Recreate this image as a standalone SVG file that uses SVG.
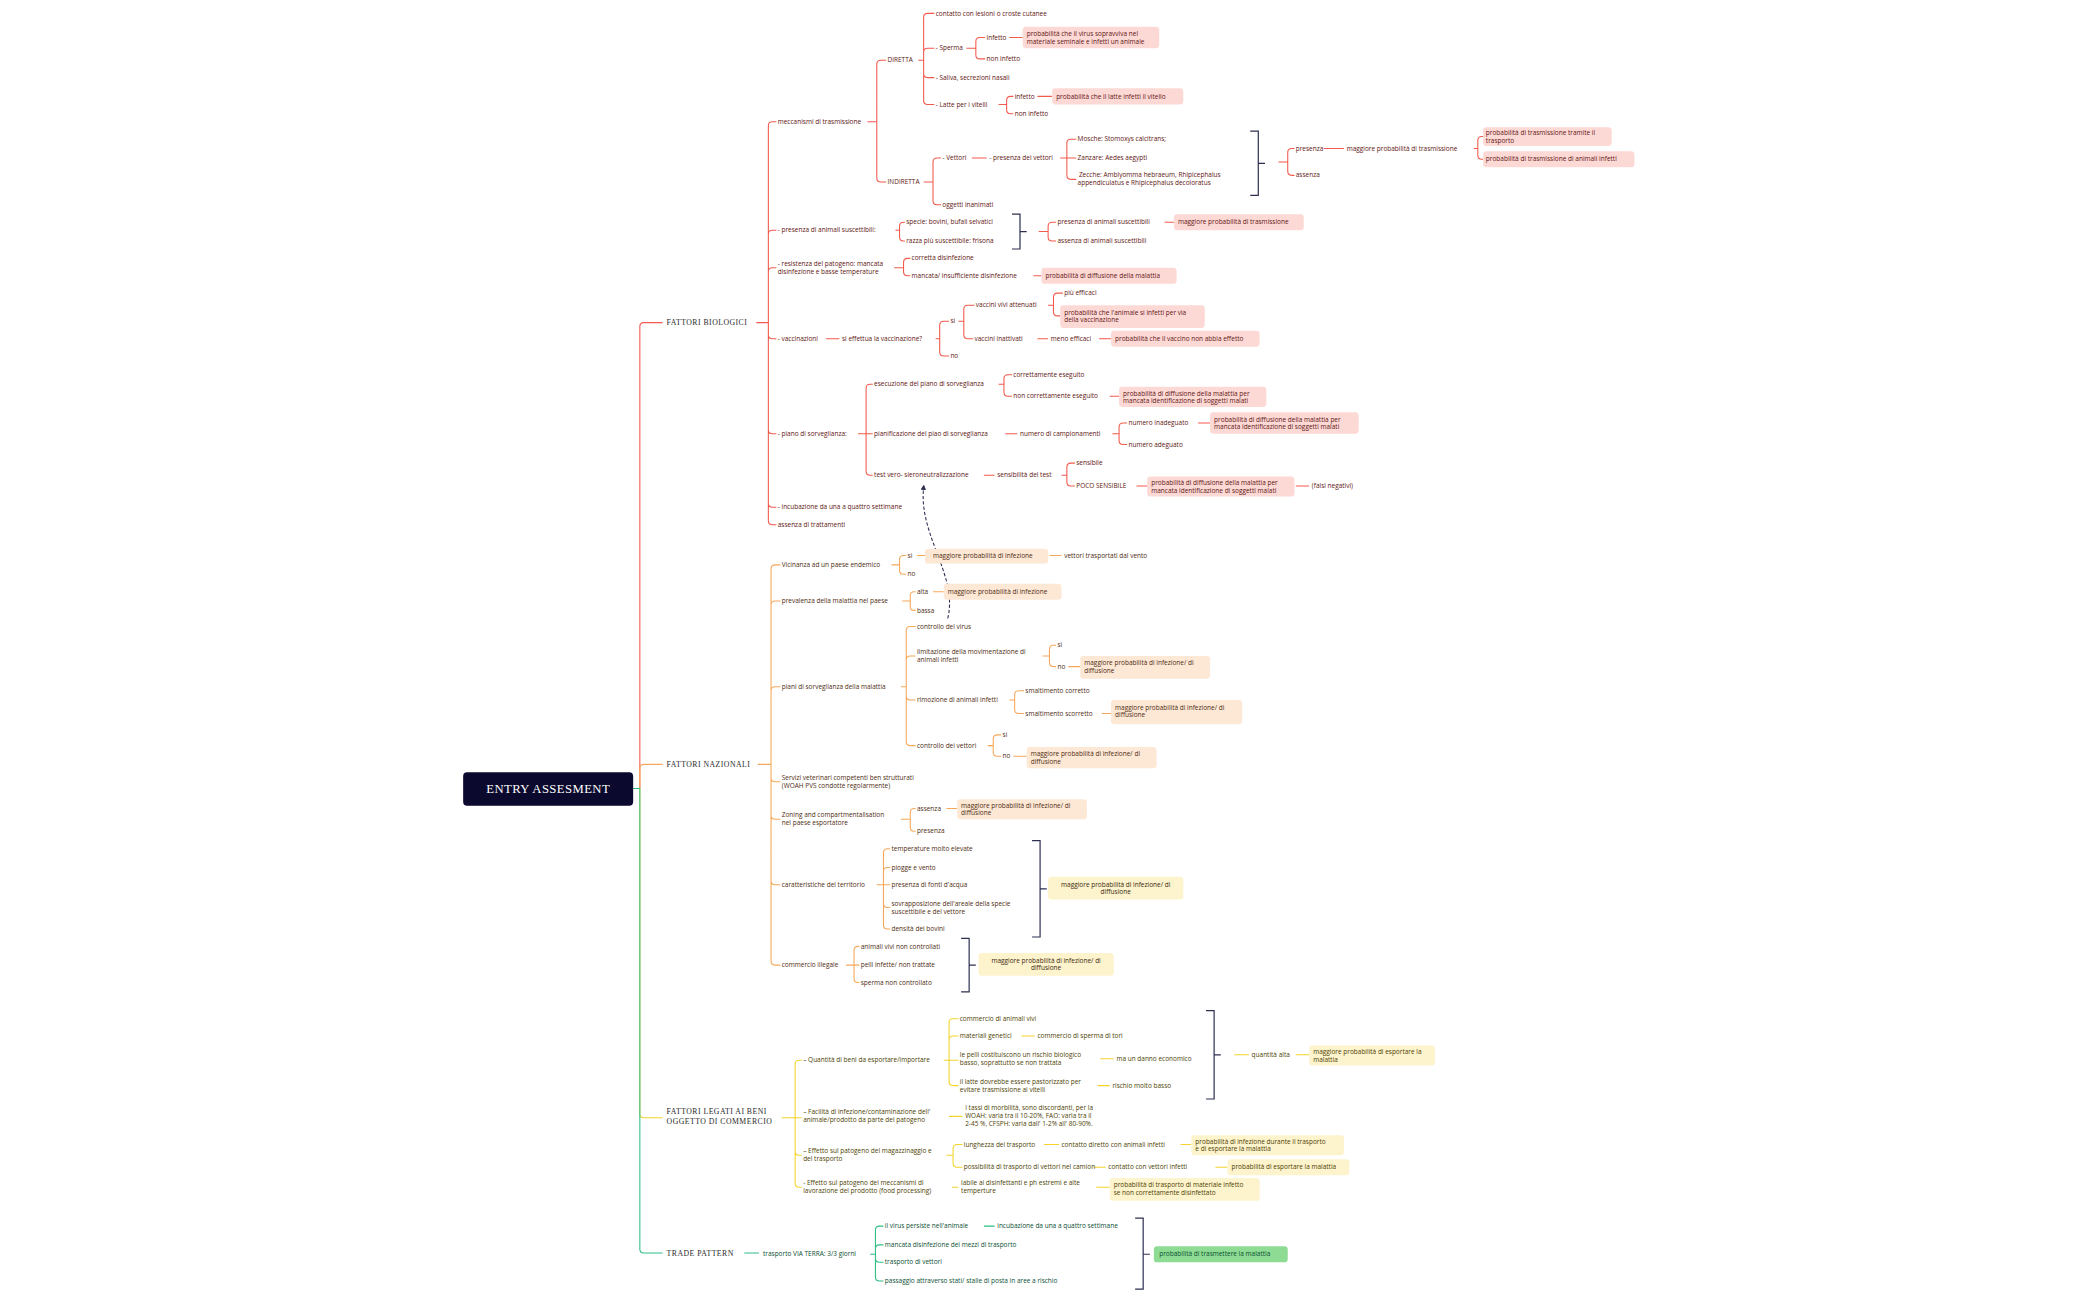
<svg xmlns="http://www.w3.org/2000/svg" width="2099" height="1300" viewBox="0 0 2099 1300">
<defs>
<style>
text{font-family:"Open Sans","Noto Sans",sans-serif;font-size:4.85px}
.r{fill:#5e1612}.o{fill:#4e2c12}.y{fill:#4d3f04}.g{fill:#0b4f33}
.lr{fill:none;stroke:#f25a4d;stroke-width:0.8}
.lo{fill:none;stroke:#f6a85a;stroke-width:0.8}
.ly{fill:none;stroke:#f3d32c;stroke-width:0.8}
.lg{fill:none;stroke:#2dbd84;stroke-width:0.8}
.lk{fill:none;stroke:#2d2f52;stroke-width:0.9}
.br{fill:#fdd9d6}.bo{fill:#fde8d6}.by{fill:#fdf3cc}.bg{fill:#8edc94}
.main{font-family:"Liberation Serif",serif;font-size:5.8px;letter-spacing:0.35px;fill:#2a2a2a}
</style>
<marker id="ah" viewBox="0 0 10 10" refX="5" refY="5" markerWidth="5" markerHeight="5" orient="auto-start-reverse"><path d="M0,0 L10,5 L0,10 z" fill="#2d2f52"/></marker>
</defs>
<rect width="2099" height="1300" fill="#fff"/>
<g transform="scale(1.3386)">
<g id="connectors">
<path class="lr" d="M478 589 V244 Q478 241 481 241 H495 M565 241 H574 M574 241 V94 Q574 91 577 91 H580 M574 241 V175 Q574 172 577 172 H580 M574 241 V203 Q574 200 577 200 H580 M574 241 V250 Q574 253 577 253 H580 M574 241 V321 Q574 324 577 324 H580 M574 241 V376 Q574 379 577 379 H580 M574 241 V389 Q574 392 577 392 H580
M648 91 H655 M655 91 V48 Q655 45 658 45 H662 M655 91 V133 Q655 136 658 136 H662
M686 45 H690 M690 45 V13 Q690 10 693 10 H698 M690 45 V39 Q690 36 693 36 H698 M690 45 V55 Q690 58 693 58 H698 M690 45 V75 Q690 78 693 78 H698
M722 36 H729 M729 36 V31 Q729 28 732 28 H736 M729 36 V41 Q729 44 732 44 H736 M754 28 H764
M746 78 H752 M752 78 V75 Q752 72 755 72 H757 M752 78 V82 Q752 85 755 85 H757 M775 72 H786
M690 136 H697 M697 136 V121 Q697 118 700 118 H703 M697 136 V150 Q697 153 700 153 H703
M726 118 H737 M792 118 H797 M797 118 V107 Q797 104 800 104 H804 M797 118 H804 M797 118 V131 Q797 134 800 134 H804
M955 121 H962 M962 121 V114 Q962 111 965 111 H967 M962 121 V128 Q962 131 965 131 H967 M989 111 H1004 M1101 111 H1104 M1104 111 V105 Q1104 102 1107 102 H1108 M1104 111 V116 Q1104 119 1107 119 H1108
M669 172 H672 M672 172 V169 Q672 166 675 166 H676 M672 172 V177 Q672 180 675 180 H676
M776 173 H783 M783 173 V169 Q783 166 786 166 H789 M783 173 V177 Q783 180 786 180 H789 M870 166 H877
M668 200 H675 M675 200 V196 Q675 193 678 193 H680 M675 200 V203 Q675 206 678 206 H680 M772 206 H778
M617 253 H627 M699 253 H702 M702 253 V243 Q702 240 705 240 H709 M702 253 V263 Q702 266 705 266 H709
M716 240 H720 M720 240 V231 Q720 228 723 228 H728 M720 240 V250 Q720 253 723 253 H727
M783 228 H787 M787 228 V222 Q787 219 790 219 H794 M787 228 V233 Q787 236 790 236 H792
M775 253 H783 M821 253 H830
M641 324 H647 M647 324 V290 Q647 287 650 287 H652 M647 324 H652 M647 324 V352 Q647 355 650 355 H652
M746 287 H750 M750 287 V283 Q750 280 753 280 H756 M750 287 V293 Q750 296 753 296 H756 M829 296 H836
M751 324 H760 M831 324 H836 M836 324 V319 Q836 316 839 316 H842 M836 324 V329 Q836 332 839 332 H842 M895 316 H904
M735 355 H743 M793 355 H797 M797 355 V349 Q797 346 800 346 H803 M797 355 V360 Q797 363 800 363 H803 M849 363 H857 M968 363 H978"/>
<path class="lo" d="M478 589 V574 Q478 571 481 571 H495 M566 571 H576 M576 571 V425 Q576 422 579 422 H583 M576 571 V452 Q576 449 579 449 H583 M576 571 V516 Q576 513 579 513 H583 M576 571 V581 Q576 584 579 584 H583 M576 571 V609 Q576 612 579 612 H583 M576 571 V658 Q576 661 579 661 H583 M576 571 V718 Q576 721 579 721 H583
M666 422 H672 M672 422 V418 Q672 415 675 415 H677 M672 422 V426 Q672 429 675 429 H677 M685 415 H691 M784 415 H793
M674 449 H680 M680 449 V445 Q680 442 683 442 H684 M680 449 V453 Q680 456 683 456 H684 M697 442 H705
M673 513 H677 M677 513 V471 Q677 468 680 468 H684 M677 513 V493 Q677 490 680 490 H684 M677 513 V520 Q677 523 680 523 H684 M677 513 V554 Q677 557 680 557 H684
M779 490 H784 M784 490 V485 Q784 482 787 482 H789 M784 490 V495 Q784 498 787 498 H789 M798 498 H807
M754 523 H758 M758 523 V519 Q758 516 761 516 H765 M758 523 V530 Q758 533 761 533 H765 M823 533 H830
M738 557 H742 M742 557 V552 Q742 549 745 549 H748 M742 557 V562 Q742 565 745 565 H748 M757 565 H767
M673 612 H680 M680 612 V607 Q680 604 683 604 H684 M680 612 V618 Q680 621 683 621 H684 M707 604 H715
M655 661 H660 M660 661 V637 Q660 634 663 634 H665 M660 661 V651 Q660 648 663 648 H665 M660 661 H665 M660 661 V675 Q660 678 663 678 H665 M660 661 V691 Q660 694 663 694 H665
M632 721 H638 M638 721 V710 Q638 707 641 707 H642 M638 721 H642 M638 721 V731 Q638 734 641 734 H642"/>
<path class="ly" d="M478 589 V832 Q478 835 481 835 H495 M584 835 H594 M594 835 V795 Q594 792 597 792 H599 M594 835 H599 M594 835 V860 Q594 863 597 863 H599 M594 835 V884 Q594 887 597 887 H599
M705 792 H709 M709 792 V764 Q709 761 712 761 H716 M709 792 V777 Q709 774 712 774 H716 M709 792 H716 M709 792 V808 Q709 811 712 811 H716
M763 774 H773 M822 791 H832 M820 811 H829 M922 788 H933 M968 788 H978
M709 834 H719
M707 863 H712 M712 863 V858 Q712 855 715 855 H719 M712 863 V869 Q712 872 715 872 H719 M780 855 H791 M882 855 H890 M817 872 H826 M908 872 H917
M711 887 H716 M819 887 H829"/>
<path class="lg" d="M473 589 H478 V933 Q478 936 481 936 H495 M556 936 H567 M650 937 H654 M654 937 V919 Q654 916 657 916 H660 M654 937 V933 Q654 930 657 930 H660 M654 937 V940 Q654 943 657 943 H660 M654 937 V954 Q654 957 657 957 H660 M735 916 H743"/>
<path class="lk" d="M934 98 H940 V146 H934 M940 122 H945 M756 160 H762 V186 H756 M762 173 H767 M771 628 H777 V700 H771 M777 664 H782 M718 701 H724 V741 H718 M724 721 H729 M901 755 H907 V821 H901 M907 788 H912 M848 910 H854 V963 H848 M854 937 H859"/>
<path d="M708 462 C 716 430 686 400 690 364" fill="none" stroke="#2d2f52" stroke-width="0.8" stroke-dasharray="2.5 1.5" marker-end="url(#ah)"/>
</g>
<g id="root"><rect x="346" y="577" width="127" height="25" rx="3" fill="#0b0a2e"/><text x="409.5" y="592.5" text-anchor="middle" style="font-family:'Liberation Serif',serif;font-size:9.5px;fill:#fff;letter-spacing:0.3px">ENTRY ASSESMENT</text></g>
<g id="main-labels">
<text class="main" x="498" y="243">FATTORI BIOLOGICI</text>
<text class="main" x="498" y="573">FATTORI NAZIONALI</text>
<text class="main" x="498" y="832">FATTORI LEGATI AI BENI</text>
<text class="main" x="498" y="839.5">OGGETTO DI COMMERCIO</text>
<text class="main" x="498" y="938">TRADE PATTERN</text>
</g>
<g id="bio">
<text class="r" x="581" y="92.6">meccanismi di trasmissione</text>
<text class="r" x="663" y="46.6">DIRETTA</text>
<text class="r" x="699" y="11.6">contatto con lesioni o croste cutanee</text>
<text class="r" x="699" y="37.6">- Sperma</text>
<text class="r" x="737" y="29.6">infetto</text>
<rect class="br" x="764" y="20" width="102" height="16" rx="2.5"/><text class="r" x="767" y="27">probabilità che il virus sopravviva nel</text><text class="r" x="767" y="32.5">materiale seminale e infetti un animale</text>
<text class="r" x="737" y="45.6">non infetto</text>
<text class="r" x="699" y="59.6">- Saliva, secrezioni nasali</text>
<text class="r" x="699" y="79.6">- Latte per i vitelli</text>
<text class="r" x="758" y="73.6">infetto</text>
<rect class="br" x="786" y="66" width="98" height="12" rx="2.5"/><text class="r" x="789" y="73.6">probabilità che il latte infetti il vitello</text>
<text class="r" x="758" y="86.6">non infetto</text>
<text class="r" x="663" y="137.6">INDIRETTA</text>
<text class="r" x="704" y="119.6">- Vettori</text>
<text class="r" x="739" y="119.6">- presenza dei vettori</text>
<text class="r" x="805" y="105.6">Mosche: Stomoxys calcitrans;</text>
<text class="r" x="805" y="119.6">Zanzare: Aedes aegypti</text>
<text class="r" x="806" y="132.5">Zecche: Amblyomma hebraeum, Rhipicephalus</text>
<text class="r" x="805" y="138.5">appendiculatus e Rhipicephalus decoloratus</text>
<text class="r" x="704" y="154.6">oggetti inanimati</text>
<text class="r" x="968" y="112.6">presenza</text>
<text class="r" x="1006" y="112.6">maggiore probabilità di trasmissione</text>
<text class="r" x="968" y="132.6">assenza</text>
<rect class="br" x="1108" y="95" width="96" height="14" rx="2.5"/><text class="r" x="1110" y="101">probabilità di trasmissione tramite il</text><text class="r" x="1110" y="106.5">trasporto</text>
<rect class="br" x="1108" y="113" width="113" height="12" rx="2.5"/><text class="r" x="1110" y="120.6">probabilità di trasmissione di animali infetti</text>
<text class="r" x="581" y="173.6">- presenza di animali suscettibili:</text>
<text class="r" x="677" y="167.6">specie: bovini, bufali selvatici</text>
<text class="r" x="677" y="181.6">razza più suscettibile: frisona</text>
<text class="r" x="790" y="167.6">presenza di animali suscettibili</text>
<rect class="br" x="877" y="160" width="97" height="12" rx="2.5"/><text class="r" x="880" y="167.6">maggiore probabilità di trasmissione</text>
<text class="r" x="790" y="181.6">assenza di animali suscettibili</text>
<text class="r" x="581" y="198.5">- resistenza del patogeno: mancata</text>
<text class="r" x="581" y="204.5">disinfezione e basse temperature</text>
<text class="r" x="681" y="194.6">corretta disinfezione</text>
<text class="r" x="681" y="207.6">mancata/ insufficiente disinfezione</text>
<rect class="br" x="778" y="200" width="101" height="12" rx="2.5"/><text class="r" x="781" y="207.6">probabilità di diffusione della malattia</text>
<text class="r" x="581" y="254.6">- vaccinazioni</text>
<text class="r" x="629" y="254.6">si effettua la vaccinazione?</text>
<text class="r" x="710" y="241.6">sì</text>
<text class="r" x="710" y="267.6">no</text>
<text class="r" x="729" y="229.6">vaccini vivi attenuati</text>
<text class="r" x="795" y="220.6">più efficaci</text>
<rect class="br" x="792" y="228" width="108" height="17" rx="2.5"/><text class="r" x="795" y="235">probabilità che l'animale si infetti per via</text><text class="r" x="795" y="240.5">della vaccinazione</text>
<text class="r" x="728" y="254.6">vaccini inattivati</text>
<text class="r" x="785" y="254.6">meno efficaci</text>
<rect class="br" x="830" y="247" width="111" height="12" rx="2.5"/><text class="r" x="833" y="254.6">probabilità che il vaccino non abbia effetto</text>
<text class="r" x="581" y="325.6">- piano di sorveglianza:</text>
<text class="r" x="653" y="288.6">esecuzione del piano di sorveglianza</text>
<text class="r" x="757" y="281.6">correttamente eseguito</text>
<text class="r" x="757" y="297.6">non correttamente eseguito</text>
<rect class="br" x="836" y="289" width="110" height="15" rx="2.5"/><text class="r" x="839" y="295.5">probabilità di diffusione della malattia per</text><text class="r" x="839" y="301">mancata identificazione di soggetti malati</text>
<text class="r" x="653" y="325.6">pianificazione del piao di sorveglianza</text>
<text class="r" x="762" y="325.6">numero di campionamenti</text>
<text class="r" x="843" y="317.6">numero inadeguato</text>
<rect class="br" x="904" y="308" width="111" height="16" rx="2.5"/><text class="r" x="907" y="315">probabilità di diffusione della malattia per</text><text class="r" x="907" y="320.5">mancata identificazione di soggetti malati</text>
<text class="r" x="843" y="333.6">numero adeguato</text>
<text class="r" x="653" y="356.6">test vero- sieroneutralizzazione</text>
<text class="r" x="745" y="356.6">sensibilità del test</text>
<text class="r" x="804" y="347.6">sensibile</text>
<text class="r" x="804" y="364.6">POCO SENSIBILE</text>
<rect class="br" x="857" y="356" width="110" height="15" rx="2.5"/><text class="r" x="860" y="362.5">probabilità di diffusione della malattia per</text><text class="r" x="860" y="368">mancata identificazione di soggetti malati</text>
<text class="r" x="980" y="364.6">(falsi negativi)</text>
<text class="r" x="581" y="380.6">- incubazione da una a quattro settimane</text>
<text class="r" x="581" y="393.6">assenza di trattamenti</text>
</g>
<g id="naz">
<text class="o" x="584" y="423.6">Vicinanza ad un paese endemico</text>
<text class="o" x="678" y="416.6">sì</text>
<rect class="bo" x="691" y="410" width="92" height="11" rx="2.5"/><text class="o" x="697" y="417">maggiore probabilità di infezione</text>
<text class="o" x="795" y="416.6">vettori trasportati dal vento</text>
<text class="o" x="678" y="430.6">no</text>
<text class="o" x="584" y="450.6">prevalenza della malattia nel paese</text>
<text class="o" x="685" y="443.6">alta</text>
<rect class="bo" x="705" y="436" width="88" height="12" rx="2.5"/><text class="o" x="708" y="443.6">maggiore probabilità di infezione</text>
<text class="o" x="685" y="457.6">bassa</text>
<text class="o" x="584" y="514.6">piani di sorveglianza della malattia</text>
<text class="o" x="685" y="469.6">controllo del virus</text>
<text class="o" x="685" y="488.5">limitazione della movimentazione di</text>
<text class="o" x="685" y="494.5">animali infetti</text>
<text class="o" x="790" y="483.6">sì</text>
<text class="o" x="790" y="499.6">no</text>
<rect class="bo" x="807" y="490" width="97" height="17" rx="2.5"/><text class="o" x="810" y="497">maggiore probabilità di infezione/ di</text><text class="o" x="810" y="502.5">diffusione</text>
<text class="o" x="685" y="524.6">rimozione di animali infetti</text>
<text class="o" x="766" y="517.6">smaltimento corretto</text>
<text class="o" x="766" y="534.6">smaltimento scorretto</text>
<rect class="bo" x="830" y="523" width="98" height="18" rx="2.5"/><text class="o" x="833" y="530.5">maggiore probabilità di infezione/ di</text><text class="o" x="833" y="536">diffusione</text>
<text class="o" x="685" y="558.6">controllo dei vettori</text>
<text class="o" x="749" y="550.6">sì</text>
<text class="o" x="749" y="566.6">no</text>
<rect class="bo" x="767" y="558" width="97" height="16" rx="2.5"/><text class="o" x="770" y="565">maggiore probabilità di infezione/ di</text><text class="o" x="770" y="570.5">diffusione</text>
<text class="o" x="584" y="582.5">Servizi veterinari competenti ben strutturati</text>
<text class="o" x="584" y="588.5">(WOAH PVS condotte regolarmente)</text>
<text class="o" x="584" y="610.5">Zoning and compartmentalisation</text>
<text class="o" x="584" y="616.5">nel paese esportatore</text>
<text class="o" x="685" y="605.6">assenza</text>
<rect class="bo" x="715" y="597" width="97" height="15" rx="2.5"/><text class="o" x="718" y="603.5">maggiore probabilità di infezione/ di</text><text class="o" x="718" y="609">diffusione</text>
<text class="o" x="685" y="622.6">presenza</text>
<text class="o" x="584" y="662.6">caratteristiche del territorio</text>
<text class="o" x="666" y="635.6">temperature molto elevate</text>
<text class="o" x="666" y="649.6">piogge e vento</text>
<text class="o" x="666" y="662.6">presenza di fonti d'acqua</text>
<text class="o" x="666" y="676.5">sovrapposizione dell'areale della specie</text>
<text class="o" x="666" y="682.5">suscettibile e del vettore</text>
<text class="o" x="666" y="695.6">densità dei bovini</text>
<rect class="by" x="783" y="655" width="101" height="17" rx="2.5"/><text x="833.5" y="662.5" text-anchor="middle" style="fill:#3a2a10">maggiore probabilità di infezione/ di</text><text x="833.5" y="668" text-anchor="middle" style="fill:#3a2a10">diffusione</text>
<text class="o" x="584" y="722.6">commercio illegale</text>
<text class="o" x="643" y="708.6">animali vivi non controllati</text>
<text class="o" x="643" y="722.6">pelli infette/ non trattate</text>
<text class="o" x="643" y="735.6">sperma non controllato</text>
<rect class="by" x="731" y="712" width="101" height="17" rx="2.5"/><text x="781.5" y="719.5" text-anchor="middle" style="fill:#3a2a10">maggiore probabilità di infezione/ di</text><text x="781.5" y="725" text-anchor="middle" style="fill:#3a2a10">diffusione</text>
</g>
<g id="beni">
<text class="y" x="600" y="793.6">– Quantità di beni da esportare/importare</text>
<text class="y" x="717" y="762.6">commercio di animali vivi</text>
<text class="y" x="717" y="775.6">materiali genetici</text>
<text class="y" x="775" y="775.6">commercio di sperma di tori</text>
<text class="y" x="717" y="789.5">le pelli  costituiscono un rischio biologico</text>
<text class="y" x="717" y="795.5">basso, soprattutto se non trattata</text>
<text class="y" x="834" y="792.6">ma un danno economico</text>
<text class="y" x="717" y="809.5">il latte dovrebbe essere pastorizzato per</text>
<text class="y" x="717" y="815.5">evitare trasmissione ai vitelli</text>
<text class="y" x="831" y="812.6">rischio molto basso</text>
<text class="y" x="935" y="789.6">quantità alta</text>
<rect class="by" x="978" y="781" width="94" height="15" rx="2.5"/><text class="y" x="981" y="787.5">maggiore probabilità di esportare la</text><text class="y" x="981" y="793">malattia</text>
<text class="y" x="600" y="832.5">– Facilità di infezione/contaminazione dell'</text>
<text class="y" x="600" y="838.5">animale/prodotto da parte del patogeno</text>
<text class="y" x="721" y="829.5">I tassi di morbilità,  sono discordanti, per la</text>
<text class="y" x="721" y="835.5">WOAH: varia tra il 10-20%, FAO: varia tra il</text>
<text class="y" x="721" y="841.5">2-45 %, CFSPH: varia dall' 1-2% all' 80-90%.</text>
<text class="y" x="600" y="861.5">– Effetto sul patogeno del magazzinaggio e</text>
<text class="y" x="600" y="867.5">del trasporto</text>
<text class="y" x="720" y="856.6">lunghezza del trasporto</text>
<text class="y" x="793" y="856.6">contatto diretto con animali infetti</text>
<rect class="by" x="890" y="848" width="114" height="15" rx="2.5"/><text class="y" x="893" y="854.5">probabilità di infezione durante il trasporto</text><text class="y" x="893" y="860">e di esportare la malattia</text>
<text class="y" x="720" y="873.6">possibilità di trasporto di vettori nel camion</text>
<text class="y" x="828" y="873.6">contatto con vettori infetti</text>
<rect class="by" x="917" y="866" width="91" height="12" rx="2.5"/><text class="y" x="920" y="873.6">probabilità di esportare la malattia</text>
<text class="y" x="600" y="885.5">- Effetto sul patogeno dei meccanismi di</text>
<text class="y" x="600" y="891.5">lavorazione del prodotto (food processing)</text>
<text class="y" x="718" y="885.5">labile ai disinfettanti e ph estremi e alte</text>
<text class="y" x="718" y="891.5">temperture</text>
<rect class="by" x="829" y="880" width="112" height="17" rx="2.5"/><text class="y" x="832" y="887">probabilità di trasporto di materiale infetto</text><text class="y" x="832" y="892.5">se non correttamente disinfettato</text>
</g>
<g id="trade">
<text class="g" x="570" y="938.6">trasporto VIA TERRA: 3/3 giorni</text>
<text class="g" x="661" y="917.6">il virus persiste nell'animale</text>
<text class="g" x="745" y="917.6">incubazione da una a quattro settimane</text>
<text class="g" x="661" y="931.6">mancata disinfezione dei mezzi di trasporto</text>
<text class="g" x="661" y="944.6">trasporto di vettori</text>
<text class="g" x="661" y="958.6">passaggio attraverso stati/ stalle di posta in aree a rischio</text>
<rect class="bg" x="862" y="931" width="100" height="12" rx="2.5"/><text class="g" x="866" y="938.6">probabilità di trasmettere la malattia</text>
</g>
</g>
</svg>
